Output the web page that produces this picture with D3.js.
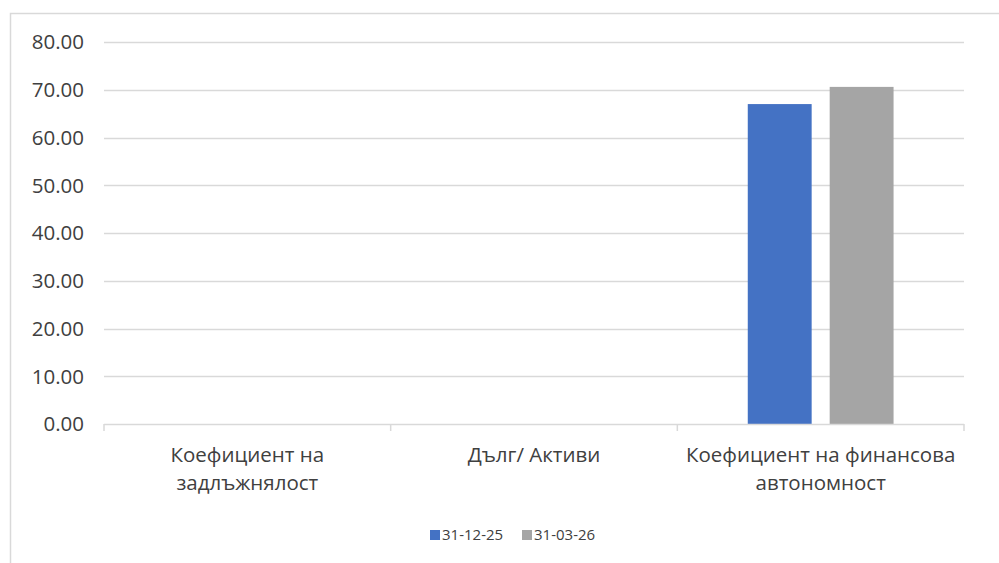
<!DOCTYPE html>
<html><head><meta charset="utf-8">
<script src="https://cdn.jsdelivr.net/npm/d3@7"></script>
<style>
html,body{margin:0;padding:0;background:#fff;}
svg{display:block;font-family:"Open Sans","Liberation Sans",Arial,sans-serif;}
</style></head>
<body><svg id="c" width="999" height="563"></svg>
<script>
const categories = [["Коефициент на","задлъжнялост"],["Дълг/ Активи"],["Коефициент на финансова","автономност"]];
const seriesNames = ["31-12-25","31-03-26"];
const series1 = [null, null, 67.0];
const series2 = [null, null, 70.6];
const yTicks = [0,10,20,30,40,50,60,70,80];
const colors = ["#4472C4","#A5A5A5"];

const svg = d3.select("#c");
svg.append("rect").attr("x",10.5).attr("y",13.5).attr("width",1000).attr("height",600)
  .attr("fill","#fff").attr("stroke","#d9d9d9").attr("stroke-width",1.5);

const L=104, R=964, T=42, B=424;
const x0 = d3.scaleBand().domain(d3.range(categories.length)).range([L,R]).paddingInner(0).paddingOuter(0);
const y = d3.scaleLinear().domain([0,80]).range([B,T]);
const x1 = d3.scaleBand().domain([0,1]).range([0,x0.bandwidth()]).paddingInner(0.22).paddingOuter(0.86);

// gridlines
svg.append("g").selectAll("line").data(yTicks.filter(d=>d>0)).join("line")
  .attr("x1",L).attr("x2",R).attr("y1",d=>Math.round(y(d))+0.5).attr("y2",d=>Math.round(y(d))+0.5)
  .attr("stroke","#d9d9d9").attr("stroke-width",1.3);

// y labels
svg.append("g").selectAll("text").data(yTicks).join("text")
  .attr("x",84).attr("y",d=>y(d)).attr("dy","0.36em").attr("text-anchor","end")
  .attr("font-size",20.5).attr("fill","#404040").text(d=>d.toFixed(2));

// bars
const data = [series1, series2];
const g = svg.append("g");
categories.forEach((c,i)=>{
  data.forEach((s,j)=>{
    if(s[i]==null) return;
    g.append("rect").attr("x",x0(i)+x1(j)).attr("width",x1.bandwidth())
      .attr("y",y(s[i])).attr("height",B-y(s[i])).attr("fill",colors[j]);
  });
});

// x axis
const ax = svg.append("g").attr("stroke","#d9d9d9").attr("stroke-width",1.5);
ax.append("line").attr("x1",L).attr("x2",R).attr("y1",B+0.5).attr("y2",B+0.5);
const bounds = d3.range(categories.length).map(i=>x0(i)).concat([R]);
ax.selectAll("line.t").data(bounds).join("line").attr("class","t")
  .attr("x1",d=>d).attr("x2",d=>d).attr("y1",B).attr("y2",B+7);

// category labels
categories.forEach((c,i)=>{
  const t = svg.append("text").attr("x",x0(i)+x0.bandwidth()/2).attr("y",462)
    .attr("text-anchor","middle").attr("font-size",20.5).attr("fill","#404040");
  c.forEach((line,k)=>t.append("tspan").attr("x",x0(i)+x0.bandwidth()/2).attr("dy",k?27.5:0).text(line));
});

// legend
const leg = svg.append("g");
const lx=[430,522];
seriesNames.forEach((n,j)=>{
  leg.append("rect").attr("x",lx[j]).attr("y",530).attr("width",10).attr("height",10).attr("fill",colors[j]);
  leg.append("text").attr("x",lx[j]+12).attr("y",535).attr("dy","0.36em").attr("font-size",15)
    .attr("fill","#404040").text(n);
});
</script></body></html>
